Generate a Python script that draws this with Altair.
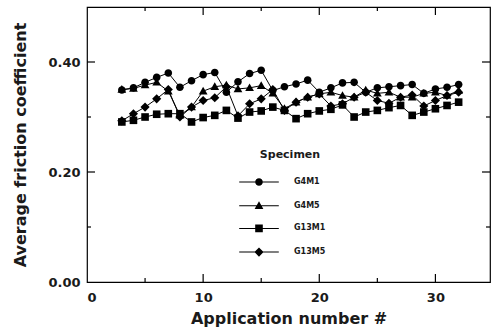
import altair as alt
import pandas as pd

# ---------------- data ----------------
app_no = [3, 4, 5, 6, 7, 8, 9, 10, 11, 12, 13, 14, 15, 16, 17,
          18, 19, 20, 21, 22, 23, 24, 25, 26, 27, 28, 29, 30, 31, 32]

g4m1 = [0.349, 0.353, 0.363, 0.372, 0.380, 0.354, 0.366, 0.377, 0.381, 0.345,
        0.364, 0.379, 0.385, 0.348, 0.355, 0.360, 0.367, 0.345, 0.353, 0.362,
        0.363, 0.345, 0.353, 0.355, 0.357, 0.359, 0.343, 0.351, 0.354, 0.359]

g4m5 = [0.350, 0.352, 0.358, 0.363, 0.347, 0.303, 0.318, 0.347, 0.355, 0.358,
        0.351, 0.353, 0.357, 0.343, 0.315, 0.327, 0.336, 0.342, 0.345, 0.339,
        0.336, 0.349, 0.343, 0.345, 0.336, 0.336, 0.343, 0.345, 0.339, 0.348]

g13m1 = [0.291, 0.294, 0.300, 0.305, 0.306, 0.306, 0.291, 0.299, 0.303, 0.312,
         0.298, 0.309, 0.311, 0.318, 0.312, 0.297, 0.306, 0.311, 0.314, 0.322,
         0.300, 0.309, 0.312, 0.317, 0.321, 0.303, 0.309, 0.315, 0.321, 0.327]

g13m5 = [0.293, 0.306, 0.318, 0.333, 0.350, 0.300, 0.318, 0.330, 0.335, 0.355,
         0.302, 0.324, 0.333, 0.350, 0.312, 0.327, 0.336, 0.342, 0.320, 0.324,
         0.336, 0.345, 0.330, 0.325, 0.336, 0.340, 0.320, 0.330, 0.339, 0.345]

series_names = ["G4M1", "G4M5", "G13M1", "G13M5"]

x_ticks_major = [0, 10, 20, 30]
x_ticks_minor = [5, 15, 25]
y_ticks_major = [0.0, 0.2, 0.4]
y_ticks_minor = [0.1, 0.3]

# ---------------- style ----------------
FONT = "DejaVu Sans"
TXT = "#1a1a1a"
XMAX, YMAX = 34.7, 0.5
W, H = 403, 275
MAJOR_PX, MINOR_PX = 8, 4

shapes = [
    "M-1,0A1,1,0,1,1,1,0A1,1,0,1,1,-1,0Z",   # circle
    "M0,-1.15L1.15,0.85H-1.15Z",              # triangle
    "M-1,-1H1V1H-1Z",                          # square
    "M0,-1.2L1.2,0L0,1.2L-1.2,0Z",             # diamond
]
# thin filled bars either side of the symbol (same winding) -> legend line
seg = "M-5.2,-0.13H-0.5V0.13H-5.2ZM0.5,-0.13H5.2V0.13H0.5Z"
legend_shapes = [s + seg for s in shapes]

rows = []
for name, vals in zip(series_names, [g4m1, g4m5, g13m1, g13m5]):
    for xv, yv in zip(app_no, vals):
        rows.append({"app": xv, "mu": yv, "spec": name})
df = pd.DataFrame(rows)

# tick marks (inward), positioned in data units through the scales
dx = XMAX / W
dy = YMAX / H
vt = []
for v in x_ticks_major + x_ticks_minor:
    L = MAJOR_PX if v in x_ticks_major else MINOR_PX
    if v == 0:
        continue
    vt.append({"tx": v, "ty0": 0.0, "ty1": L * dy})
    vt.append({"tx": v, "ty0": YMAX, "ty1": YMAX - L * dy})
vt = pd.DataFrame(vt)
ht = []
for v in y_ticks_major + y_ticks_minor:
    L = MAJOR_PX if v in y_ticks_major else MINOR_PX
    if v == 0:
        continue
    ht.append({"ty": v, "tx0": 0.0, "tx1": L * dx})
    ht.append({"ty": v, "tx0": XMAX, "tx1": XMAX - L * dx})
ht = pd.DataFrame(ht)

xs = alt.Scale(domain=[0, XMAX], nice=False, zero=False)
ys = alt.Scale(domain=[0, YMAX], nice=False)

x_axis = alt.Axis(values=x_ticks_major, format="d", title="Application number #",
                  grid=False, domain=False, ticks=False, labelPadding=9,
                  labelFont=FONT, labelFontSize=13, labelFontWeight="bold", labelColor=TXT,
                  titleFont=FONT, titleFontSize=16, titleFontWeight="bold", titleColor=TXT,
                  titlePadding=6)
y_axis = alt.Axis(values=y_ticks_major, format=".2f", title="Average friction coefficient",
                  grid=False, domain=False, ticks=False, labelPadding=7,
                  labelFont=FONT, labelFontSize=13, labelFontWeight="bold", labelColor=TXT,
                  titleFont=FONT, titleFontSize=16, titleFontWeight="bold", titleColor=TXT,
                  titlePadding=19)

lines = alt.Chart(df).mark_line(color="black", strokeWidth=1).encode(
    x=alt.X("app:Q", scale=xs, axis=x_axis),
    y=alt.Y("mu:Q", scale=ys, axis=y_axis),
    detail="spec:N",
    order="app:Q",
)

points = alt.Chart(df).mark_point(filled=True, color="black", opacity=1, size=58).encode(
    x=alt.X("app:Q", scale=xs, axis=x_axis),
    y=alt.Y("mu:Q", scale=ys, axis=y_axis),
    shape=alt.Shape("spec:N", scale=alt.Scale(domain=series_names, range=shapes), legend=None),
)

# legend-only layer (no rows drawn): symbols with a line through them
legend_layer = alt.Chart(df).transform_filter("datum.app < 0").mark_point(
    filled=True, color="black", opacity=1, size=58
).encode(
    x=alt.X("app:Q", scale=xs, axis=x_axis),
    y=alt.Y("mu:Q", scale=ys, axis=y_axis),
    shape=alt.Shape("spec:N", scale=alt.Scale(domain=series_names, range=legend_shapes),
                    legend=alt.Legend(
                        title="Specimen", orient="none", legendX=167, legendY=142,
                        titleFont=FONT, titleFontSize=11, titleFontWeight="bold", titleColor=TXT,
                        titleAnchor="middle", titlePadding=17,
                        labelFont=FONT, labelFontSize=8, labelFontWeight="bold", labelColor=TXT,
                        symbolSize=58, symbolFillColor="black",
                        labelOffset=30, rowPadding=8.7, padding=0)),
)

vticks = alt.Chart(vt).mark_rule(color="black", strokeWidth=1.2).encode(
    x=alt.X("tx:Q", scale=xs, axis=x_axis),
    y=alt.Y("ty0:Q", scale=ys, axis=y_axis),
    y2="ty1:Q",
)
hticks = alt.Chart(ht).mark_rule(color="black", strokeWidth=1.2).encode(
    y=alt.Y("ty:Q", scale=ys, axis=y_axis),
    x=alt.X("tx0:Q", scale=xs, axis=x_axis),
    x2="tx1:Q",
)

chart = alt.layer(lines, points, legend_layer, vticks, hticks).resolve_scale(
    shape="independent"
).properties(
    width=W, height=H,
    padding={"left": 87, "top": 7, "right": 1, "bottom": 50},
    autosize=alt.AutoSizeParams(type="none"),
    background="white",
).configure_view(stroke="black", strokeWidth=1.2)

chart.save("out.html", embed_options={"renderer": "svg", "actions": False})
